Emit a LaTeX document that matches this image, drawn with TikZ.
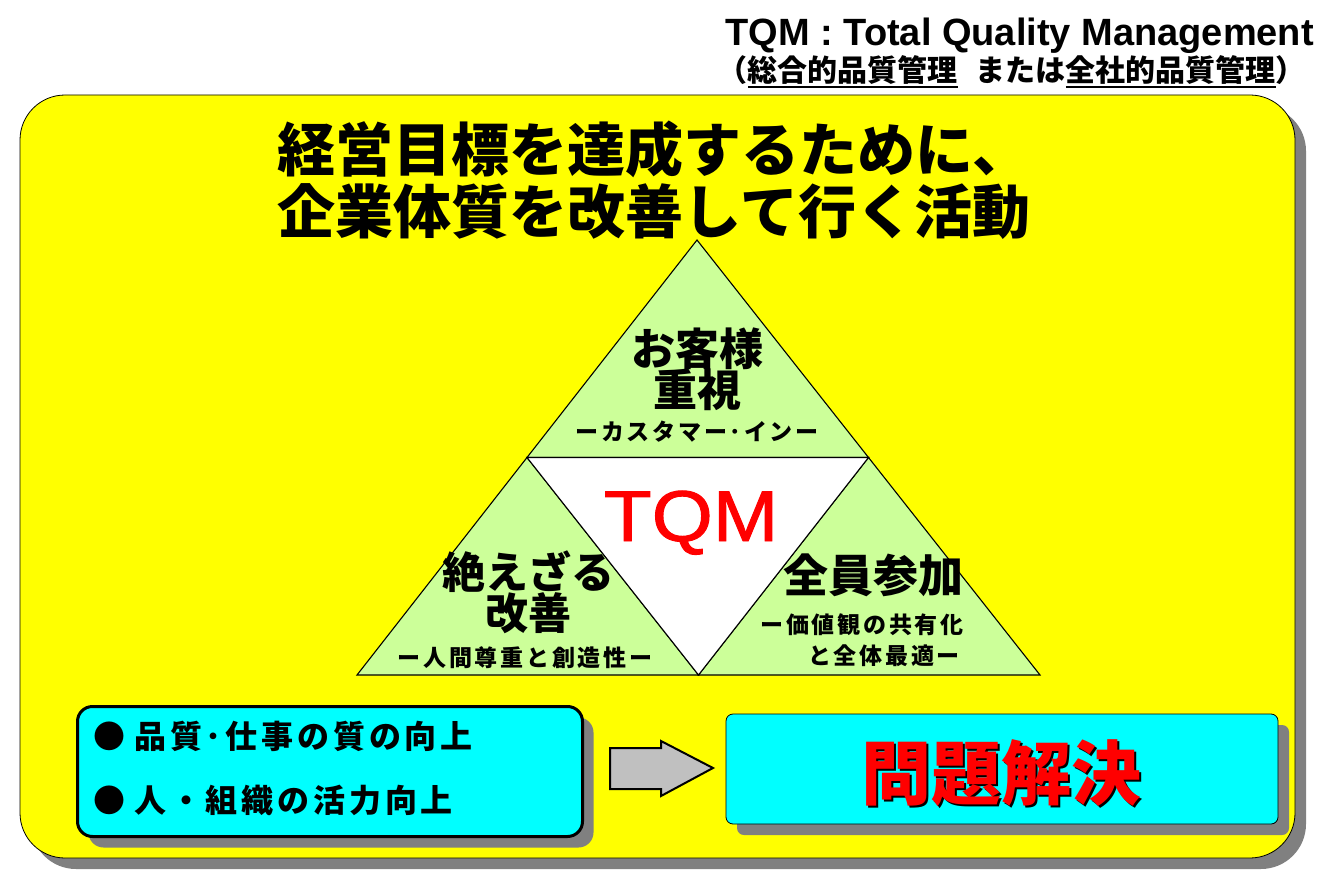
\documentclass[tikz,border=0pt]{standalone}
\usepackage{fontspec}
\usepackage{graphicx}
\setmainfont{Liberation Sans}
\newfontfamily\jp{Noto Sans CJK JP}
\newfontfamily\jpsp{Noto Sans CJK JP}[LetterSpace=12]
\newfontfamily\tqmfont{Liberation Sans}[FakeBold=1.3]
\usetikzlibrary{shadows}
\definecolor{panelyellow}{HTML}{FFFF00}
\definecolor{boxcyan}{HTML}{00FFFF}
\definecolor{trigreen}{HTML}{CCFF99}
\definecolor{shadowgray}{HTML}{808080}
\definecolor{arrowgray}{HTML}{C0C0C0}
\definecolor{tqmred}{HTML}{FF0000}
\newcommand\jpb[1]{\jp\bfseries\fontsize{#1}{#1}\selectfont}
\newcommand\jpspb[1]{\jpsp\bfseries\fontsize{#1}{#1}\selectfont}
\newcommand\myul[1]{\setbox0\hbox{#1}\rlap{\rule[-6.5pt]{\wd0}{2.6pt}}\box0}
\tikzset{
  shadowed/.style={drop shadow={shadow xshift=11pt, shadow yshift=-11pt, fill=shadowgray, opacity=1}},
  panel/.style={draw, line width=0.8pt, fill=panelyellow, rounded corners=45pt,
    minimum width=1275pt, minimum height=763pt, inner sep=0pt, shadowed},
  leftbox/.style={draw, line width=3pt, fill=boxcyan, rounded corners=15pt,
    minimum width=505pt, minimum height=130pt, inner sep=0pt, shadowed},
  rightbox/.style={draw, line width=0.8pt, fill=boxcyan, rounded corners=7pt,
    minimum width=552pt, minimum height=110pt, inner sep=0pt, shadowed},
  tri/.style={draw, line width=1.1pt, fill=trigreen, line join=miter},
  mid/.style={draw, line width=1.1pt, fill=white},
  blockarrow/.style={draw, line width=2pt, fill=arrowgray, line join=miter},
  lbl/.style={inner sep=0pt},
}
\begin{document}
\begin{tikzpicture}[x=1pt,y=-1pt]
\useasboundingbox (0,0) rectangle (1331,880);
% panel
\node[panel] (panel) at (657.5,476.5) {};
% title
\node[lbl, anchor=base east, font=\bfseries\fontsize{38}{38}\selectfont] (t1) at (1314,46) {TQM : Total Quality Management};
\node[lbl, anchor=east, font=\jpb{30}] (t2) at (1306,72) {（\myul{総合的品質管理}\hspace{18pt}または\myul{全社的品質管理}）};
% heading
\node[lbl, font=\jpb{58}] (h1) at (654,149) {経営目標を達成するために、};
\node[lbl, font=\jpb{58}] (h2) at (654,212) {企業体質を改善して行く活動};
% triangle
\coordinate (A) at (697,240);
\coordinate (B) at (357,675);
\coordinate (C) at (1040,675);
\coordinate (AB) at (527,457.5);
\coordinate (AC) at (868.5,457.5);
\coordinate (BC) at (698.5,675);
\filldraw[tri] (A) -- (AB) -- (AC) -- cycle;
\filldraw[tri] (AB) -- (B) -- (BC) -- cycle;
\filldraw[tri] (AC) -- (BC) -- (C) -- cycle;
\filldraw[mid] (AB) -- (AC) -- (BC) -- cycle;
% triangle texts
\node[lbl, font=\jpb{44}] (cust1) at (697,349) {お客様};
\node[lbl, font=\jpb{44}] (cust2) at (697,390) {重視};
\node[lbl, font=\jpspb{23}] (custsub) at (697,432) {ーカスタマー･インー};
\node[lbl, anchor=base, text=tqmred, font=\tqmfont\fontsize{72}{72}\selectfont] (tqm) at (691,541) {\scalebox{1.09}[1]{TQM}};
\node[lbl, font=\jpb{43}] (kai1) at (528,572) {絶えざる};
\node[lbl, font=\jpb{43}] (kai2) at (528,613) {改善};
\node[lbl, font=\jpspb{23}] (kaisub) at (525,658) {ー人間尊重と創造性ー};
\node[lbl, font=\jpb{45}] (zen) at (873,575) {全員参加};
\node[lbl, font=\jpspb{23}] (zensub1) at (862,625) {ー価値観の共有化};
\node[lbl, font=\jpspb{23}] (zensub2) at (884,656) {と全体最適ー};
% bottom boxes
\node[leftbox] (goals) at (330,771.5) {};
\node[rightbox] (solve) at (1002,769) {};
\node[lbl, anchor=west, font=\jpb{32}] (g1) at (93,736) {●\hspace{9pt}{\jpspb{32}品質･仕事の質の向上}};
\node[lbl, anchor=west, font=\jpb{32}] (g2) at (93,800) {●\hspace{9pt}{\jpspb{32}人・組織の活力向上}};
% block arrow
\filldraw[blockarrow] (610,748) -- (661,748) -- (661,741) -- (713,768) -- (661,796) -- (661,789) -- (610,789) -- cycle;
% problem solving
\node[lbl, font=\jpb{70}, text=black] (solvesh) at (1003.5,775.5) {問題解決};
\node[lbl, font=\jpb{70}, text=tqmred] (solvetxt) at (1001,773) {問題解決};
\end{tikzpicture}
\end{document}
